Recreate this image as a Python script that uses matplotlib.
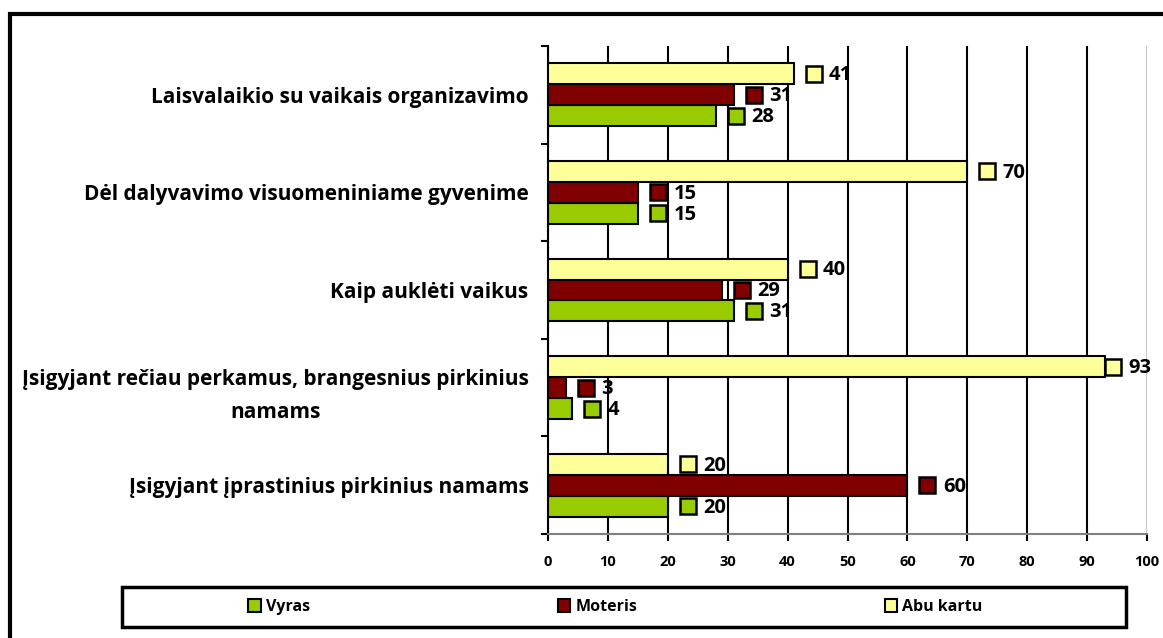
import matplotlib
matplotlib.use("Agg")
import matplotlib.pyplot as plt
import matplotlib.transforms as mtransforms
from matplotlib.patches import Rectangle
import numpy as np

plt.rcParams['font.family'] = ['Open Sans', 'DejaVu Sans']
plt.rcParams['font.weight'] = 'bold'

# duomenys (nuo apacios i virsu)
categories = ["Įsigyjant įprastinius pirkinius namams",
              "Įsigyjant rečiau perkamus, brangesnius pirkinius\nnamams",
              "Kaip auklėti vaikus",
              "Dėl dalyvavimo visuomeniniame gyvenime",
              "Laisvalaikio su vaikais organizavimo"]
vyras = [20, 4, 31, 15, 28]
moteris = [60, 3, 29, 15, 31]
abu_kartu = [20, 93, 40, 70, 41]
series_names = ["Vyras", "Moteris", "Abu kartu"]
colors = ["#99CC00", "#800000", "#FFFF99"]

fig = plt.figure(figsize=(11.63, 6.38), dpi=100)
W, H = 1163, 638
ax = fig.add_axes([548 / W, 1 - 534 / H, (1147 - 548) / W, (534 - 46) / H])

y = np.arange(len(categories))
h = 0.215
for k, (vals, col, name) in enumerate(zip([vyras, moteris, abu_kartu], colors, series_names)):
    pos = y + (k - 1) * h
    ax.barh(pos, vals, height=h, color=col, edgecolor="black", linewidth=1.5,
            label=name, zorder=3)
    for v, p in zip(vals, pos):
        # prie pat krasto etiketes pastumiamos arciau
        sq, tx = (20, 25.5) if v < 90 else (8, 17)
        mk = mtransforms.offset_copy(ax.transData, fig=fig, x=sq, y=0, units="dots")
        ax.plot([v], [p], linestyle="none", marker="s", markersize=11,
                markerfacecolor=col, markeredgecolor="black", markeredgewidth=1.8,
                transform=mk, zorder=4, clip_on=False)
        ax.annotate(str(v), (v, p), xytext=(tx, -1), textcoords="offset points",
                    va="center", ha="left", fontsize=14.5, fontweight="bold",
                    zorder=5, annotation_clip=False)

ax.set_xlim(0, 100)
ax.set_ylim(-0.5, len(categories) - 0.5)
ax.set_xticks(np.arange(0, 101, 10))
ax.tick_params(axis="x", direction="out", length=5, width=1.5, pad=10, labelsize=10.5)
ax.grid(axis="x", color="black", linewidth=1.5, zorder=0)
ax.get_xgridlines()[-1].set_color("#c8c8c8")
ax.set_yticks(y)
ax.set_yticklabels(categories, fontsize=15, fontweight="bold",
                   multialignment="center", linespacing=1.75)
ax.set_yticks(np.arange(-0.5, len(categories), 1), minor=True)
ax.tick_params(axis="y", which="major", length=0, pad=14)
ax.tick_params(axis="y", which="minor", direction="out", length=5, width=1.5)
for lab in ax.get_xticklabels():
    lab.set_fontweight("bold")

for s in ["top", "right"]:
    ax.spines[s].set_visible(False)
ax.spines["left"].set_linewidth(1.5)
ax.spines["bottom"].set_linewidth(1.5)
ax.spines["bottom"].set_color("#808080")

# išorinis rėmas
fig.patches.append(Rectangle((10 / W, -0.1), 1.2, 1 - 14 / H + 0.1, transform=fig.transFigure,
                             fill=False, edgecolor="black", linewidth=3))
# legendos rėmas
fig.patches.append(Rectangle((122 / W, 1 - 627 / H), (1126 - 122) / W, 40 / H,
                             transform=fig.transFigure, fill=False, edgecolor="black", linewidth=2.5))

handles = [Rectangle((0, 0), 1, 1, facecolor=c, edgecolor="black", linewidth=1.5) for c in colors]
fig.legend(handles, series_names, loc="center left", bbox_to_anchor=(234 / W, 1 - 607 / H),
           ncol=3, frameon=False, prop={"size": 11.5, "weight": "bold"},
           handlelength=0.8, handleheight=0.8, handletextpad=0.3, columnspacing=15.5)

fig.savefig("out.png", dpi=100)
